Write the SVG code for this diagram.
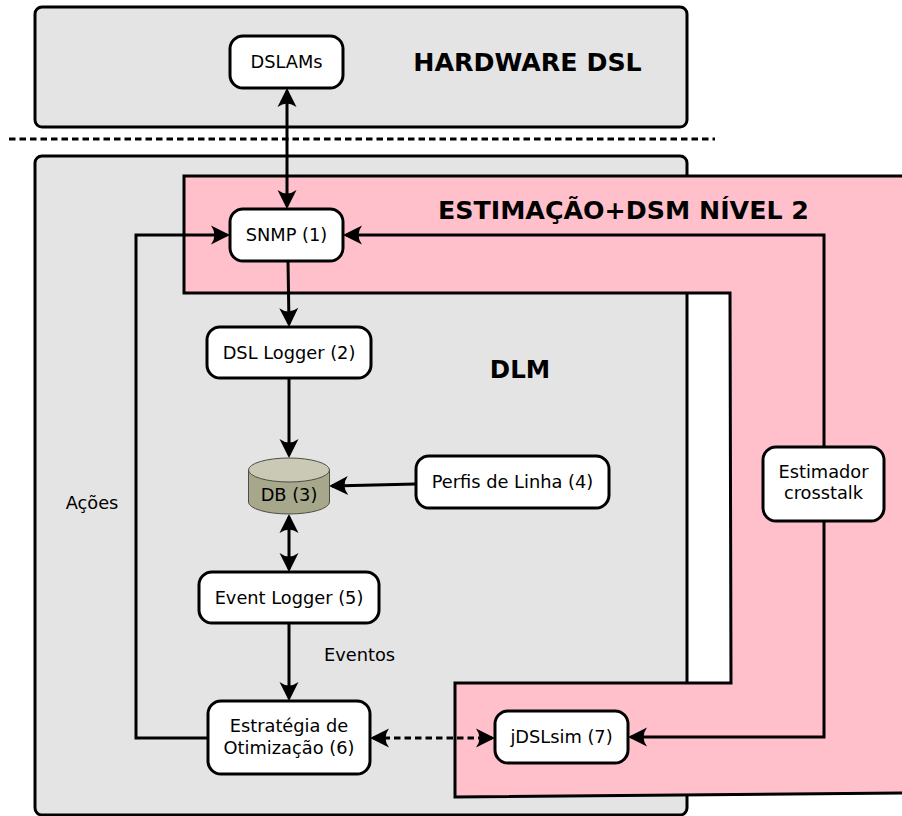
<svg xmlns="http://www.w3.org/2000/svg" width="902" height="816" viewBox="0 0 902 816">
  <style>
    .panel { fill: #e4e4e4; stroke: #000; stroke-width: 3; }
    .zone { fill: #ffc0cb; stroke: #000; stroke-width: 3; }
    .node { fill: #fff; stroke: #000; stroke-width: 3; }
    .wire { fill: none; stroke: #000; stroke-width: 3; }
    .dash { stroke-dasharray: 6.5 4; }
    .lbl { font-family: "DejaVu Sans", "Liberation Sans", sans-serif; font-size: 17.8px; fill: #000; text-anchor: middle; }
    .ttl { font-family: "DejaVu Sans", "Liberation Sans", sans-serif; font-size: 25.3px; font-weight: bold; fill: #000; text-anchor: middle; }
  </style>
  <defs>
    <marker id="head" markerUnits="userSpaceOnUse" markerWidth="30" markerHeight="30" viewBox="-20 -15 30 30" refX="0" refY="0" orient="auto-start-reverse" overflow="visible">
      <path d="M3,0 L-16,-9.5 Q-9,0 -16,9.5 Z" fill="#000"/>
    </marker>
  </defs>

  <!-- hardware layer -->
  <g id="hardware">
    <rect class="panel" x="35" y="7" width="652" height="120" rx="7"/>
    <text class="ttl" x="527.5" y="71">HARDWARE DSL</text>
  </g>

  <line class="wire dash" x1="9" y1="139" x2="715" y2="139"/>

  <!-- DLM layer -->
  <g id="dlm">
    <rect class="panel" x="35" y="156" width="652" height="659" rx="7"/>
    <text class="ttl" x="520" y="378" style="font-size:24.5px">DLM</text>
  </g>

  <!-- estimation / DSM level 2 region -->
  <g id="estimacao">
    <polygon class="zone" points="184,176 912,176 912,793 455,797 455,683 731,683 730,293 184,293"/>
    <text class="ttl" x="623.5" y="219">ESTIMAÇÃO+DSM NÍVEL 2</text>
  </g>

  <g id="connectors">
    <line class="wire" x1="287" y1="91" x2="287" y2="206" marker-start="url(#head)" marker-end="url(#head)"/>
    <line class="wire" x1="288" y1="261" x2="289" y2="324" marker-end="url(#head)"/>
    <line class="wire" x1="289" y1="378" x2="289" y2="455" marker-end="url(#head)"/>
    <line class="wire" x1="416" y1="484" x2="332" y2="486" marker-end="url(#head)"/>
    <line class="wire" x1="289" y1="517" x2="289" y2="569" marker-start="url(#head)" marker-end="url(#head)"/>
    <line class="wire" x1="289" y1="623" x2="289" y2="698" marker-end="url(#head)"/>
    <polyline class="wire" points="209,738 136,738 136,235 227,235" marker-end="url(#head)"/>
    <polyline class="wire" points="824,447 824,235 346,235" marker-end="url(#head)"/>
    <polyline class="wire" points="824,521 824,737 631,737" marker-end="url(#head)"/>
    <line class="wire dash" x1="373" y1="738" x2="492" y2="738" marker-start="url(#head)" marker-end="url(#head)"/>
    <text class="lbl" x="92" y="509">Ações</text>
    <text class="lbl" x="359.5" y="661">Eventos</text>
  </g>

  <g id="dslams">
    <rect class="node" x="230" y="36" width="113" height="52" rx="13"/>
    <text class="lbl" x="286.5" y="68">DSLAMs</text>
  </g>

  <g id="snmp">
    <rect class="node" x="230" y="209" width="113" height="52" rx="13"/>
    <text class="lbl" x="286.5" y="241">SNMP (1)</text>
  </g>

  <g id="dsl-logger">
    <rect class="node" x="207" y="327" width="164" height="51" rx="13"/>
    <text class="lbl" x="289" y="358.5">DSL Logger (2)</text>
  </g>

  <g id="db">
    <path d="M248.5,470 L248.5,502 A40.5,12 0 0 0 329.5,502 L329.5,470 Z" fill="#a7a78b" stroke="#4d4d45" stroke-width="1"/>
    <ellipse cx="289" cy="470" rx="40.5" ry="12" fill="#c9c9b5" stroke="#4d4d45" stroke-width="1"/>
    <text class="lbl" x="289" y="501">DB (3)</text>
  </g>

  <g id="perfis">
    <rect class="node" x="416" y="456" width="193" height="52" rx="13"/>
    <text class="lbl" x="512.5" y="488">Perfis de Linha (4)</text>
  </g>

  <g id="event-logger">
    <rect class="node" x="199" y="572" width="180" height="51" rx="13"/>
    <text class="lbl" x="289" y="603.5">Event Logger (5)</text>
  </g>

  <g id="estrategia">
    <rect class="node" x="208" y="701" width="162" height="73" rx="13"/>
    <text class="lbl" x="289" y="732">Estratégia de</text>
    <text class="lbl" x="289" y="754">Otimização (6)</text>
  </g>

  <g id="jdslsim">
    <rect class="node" x="495" y="711" width="133" height="52" rx="13"/>
    <text class="lbl" x="561.5" y="743">jDSLsim (7)</text>
  </g>

  <g id="estimador">
    <rect class="node" x="763" y="447" width="121" height="74" rx="13"/>
    <text class="lbl" x="823.5" y="478">Estimador</text>
    <text class="lbl" x="823.5" y="499">crosstalk</text>
  </g>
</svg>
